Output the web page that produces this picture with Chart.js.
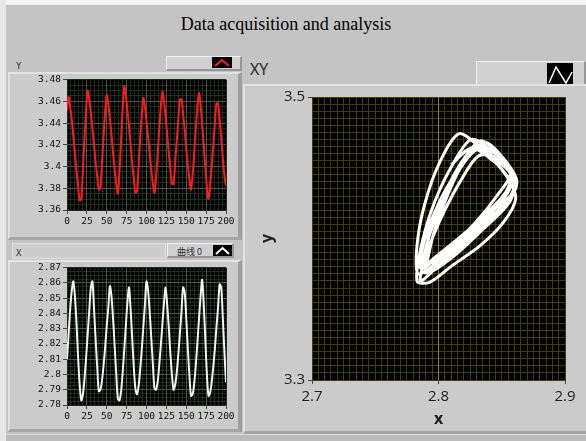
<!DOCTYPE html>
<html>
<head>
<meta charset="utf-8">
<script src="https://cdn.jsdelivr.net/npm/chart.js@4.4.0/dist/chart.umd.min.js"></script>
<style>
  html, body { margin: 0; padding: 0; }
  body { width: 586px; height: 441px; background: #c4c4c4; position: relative; overflow: hidden; }
  div, canvas, svg { position: absolute; }
  #title { left: 0; top: 14px; width: 572px; text-align: center; font: 18px "Liberation Serif", serif; color: #000; }
  .panel { background: #cbcbcb; box-sizing: border-box; border-top: 2px solid #e2e2e2; border-left: 2px solid #e2e2e2; border-right: 4px solid #9e9e9e; border-bottom: 3px solid #a6a6a6; }
  .hdr { background: #d0d0d0; box-sizing: border-box; border-top: 1px solid #f0f0f0; border-left: 1px solid #f0f0f0; border-right: 2px solid #979797; border-bottom: 2px solid #979797; }
  .icon { background: #000; }
  .lbl { font: 9px "DejaVu Sans Mono", monospace; color: #333; }
</style>
</head>
<body>
<div style="left:0;top:0;width:586px;height:5px;background:#f2f2f2"></div>
<div style="left:0;top:0;width:6px;height:441px;background:#e6e6e6"></div>
<div style="left:6px;top:434px;width:580px;height:7px;background:#bcbcbc;border-top:1px solid #dcdcdc"></div>
<div id="title">Data acquisition and analysis</div>

<!-- Y strip chart frame -->
<div class="lbl" style="left:16px;top:61px">Y</div>
<div class="hdr" style="left:166px;top:56px;width:76px;height:15px"></div>
<svg class="icon" style="left:212px;top:57px" width="20" height="11"><polyline points="3,9 10,3 17,9" fill="none" stroke="#ff2020" stroke-width="2"/></svg>
<div class="panel" style="left:8px;top:72px;width:234px;height:168px"></div>

<!-- X strip chart frame -->
<div style="left:12px;top:243px;width:152px;height:14px;background:#cdcdcd;border:1px solid #e0e0e0"></div>
<div class="lbl" style="left:16px;top:248px">X</div>
<div class="hdr" style="left:167px;top:243px;width:67px;height:15px"></div>
<div style="left:177px;top:245px;font:9px 'Noto Sans CJK SC', sans-serif;color:#333">曲线 0</div>
<svg class="icon" style="left:213px;top:245px" width="19" height="11"><polyline points="3,9 9.5,3 16,9" fill="none" stroke="#ffffff" stroke-width="2"/></svg>
<div class="panel" style="left:8px;top:260px;width:234px;height:172px"></div>

<!-- XY graph frame -->
<div style="left:250px;top:58px;font:16px 'Open Sans', sans-serif;color:#222">XY</div>
<div class="hdr" style="left:476px;top:61px;width:110px;height:27px"></div>
<svg class="icon" style="left:547px;top:63px" width="26" height="23"><polyline points="2,20 9,4 19,20 25,9" fill="none" stroke="#ffffff" stroke-width="1.5"/></svg>
<div class="panel" style="left:243px;top:84px;width:343px;height:350px;border-right:none"></div>

<canvas id="chartY" style="left:10px;top:72px" width="232" height="166"></canvas>
<canvas id="chartX" style="left:10px;top:260px" width="232" height="170"></canvas>
<canvas id="chartXY" style="left:244px;top:85px" width="342" height="350"></canvas>

<script>
// sample index 0..200 (every second sample)
var sampleIndex = Array.from({length: 101}, function (_, i) { return i * 2; });

var yValues = [
  3.452, 3.464, 3.455, 3.443, 3.428, 3.411, 3.395, 3.381, 3.369, 3.370,
  3.397, 3.426, 3.452, 3.470, 3.462, 3.450, 3.435, 3.420, 3.404, 3.391,
  3.379, 3.380, 3.403, 3.428, 3.451, 3.466, 3.457, 3.444, 3.429, 3.412,
  3.397, 3.384, 3.375, 3.395, 3.424, 3.454, 3.474, 3.465, 3.452, 3.437,
  3.420, 3.403, 3.389, 3.376, 3.377, 3.400, 3.425, 3.448, 3.463, 3.455,
  3.442, 3.427, 3.412, 3.397, 3.384, 3.376, 3.390, 3.411, 3.434, 3.455,
  3.469, 3.460, 3.446, 3.430, 3.413, 3.397, 3.384, 3.384, 3.403, 3.423,
  3.443, 3.462, 3.462, 3.449, 3.434, 3.417, 3.401, 3.388, 3.379, 3.392,
  3.412, 3.435, 3.455, 3.468, 3.457, 3.439, 3.419, 3.399, 3.381, 3.370,
  3.382, 3.400, 3.420, 3.440, 3.458, 3.458, 3.443, 3.427, 3.408, 3.392,
  3.382
];

var xValues = [
  2.810, 2.826, 2.843, 2.855, 2.861, 2.851, 2.833, 2.811, 2.793, 2.783,
  2.787, 2.797, 2.811, 2.826, 2.842, 2.857, 2.861, 2.843, 2.823, 2.805,
  2.789, 2.790, 2.796, 2.806, 2.818, 2.832, 2.844, 2.858, 2.851, 2.836,
  2.818, 2.800, 2.784, 2.783, 2.789, 2.801, 2.816, 2.832, 2.847, 2.857,
  2.843, 2.824, 2.805, 2.791, 2.787, 2.792, 2.803, 2.816, 2.831, 2.846,
  2.861, 2.855, 2.841, 2.824, 2.807, 2.791, 2.790, 2.795, 2.806, 2.819,
  2.833, 2.847, 2.857, 2.846, 2.831, 2.814, 2.800, 2.790, 2.793, 2.801,
  2.813, 2.827, 2.841, 2.857, 2.854, 2.837, 2.817, 2.799, 2.786, 2.787,
  2.794, 2.806, 2.821, 2.836, 2.851, 2.862, 2.846, 2.823, 2.800, 2.786,
  2.788, 2.795, 2.805, 2.817, 2.831, 2.844, 2.859, 2.857, 2.837, 2.815,
  2.795
];

var yRange = [3.36, 3.48, 0.02];
var xRange = [2.78, 2.87, 0.01];
var sampleRange = [0, 200, 25];
var xyXRange = [2.7, 2.9, 0.1];
var xyYRange = [3.3, 3.5, 0.1];

var plotBackground = {
  id: 'plotBackground',
  beforeDraw: function (chart) {
    var a = chart.chartArea, ctx = chart.ctx;
    ctx.save();
    ctx.fillStyle = '#000';
    ctx.fillRect(a.left, a.top, a.right - a.left, a.bottom - a.top);
    ctx.restore();
  }
};

function fmt(v) { return String(Number(v.toFixed(4))); }

function hideEdges(color) {
  return function (c) {
    var n = c.scale.ticks.length;
    return (c.index === 0 || c.index === n - 1) ? 'rgba(0,0,0,0)' : color;
  };
}

// major axis with labels
function majorAxis(pos, min, max, step, size, font, gridColor, pad) {
  return {
    type: 'linear', position: pos, min: min, max: max,
    afterFit: function (s) { if (pos === 'left') s.width = size; else s.height = size; },
    border: { display: false },
    grid: { color: hideEdges(gridColor), tickColor: '#444', tickLength: 4, lineWidth: 1 },
    ticks: { stepSize: step, maxTicksLimit: Math.round((max - min) / step) + 1, color: '#111',
             font: font, padding: pad, maxRotation: 0, autoSkip: false, callback: fmt }
  };
}

// minor grid only
function minorAxis(pos, min, max, step, color) {
  return {
    type: 'linear', position: pos, min: min, max: max, z: -1,
    afterFit: function (s) { if (pos === 'left') s.width = 0; else s.height = 0; },
    border: { display: false },
    grid: { color: color, drawTicks: false, lineWidth: 1 },
    ticks: { display: false, stepSize: step, maxTicksLimit: Math.round((max - min) / step) + 1 }
  };
}

var smallFont = { family: 'DejaVu Sans Mono', size: 9.5 };

function stripChart(id, values, color, range, minorStep, padTop, xHeight) {
  return new Chart(document.getElementById(id), {
    type: 'line',
    data: {
      datasets: [{
        data: sampleIndex.map(function (t, i) { return { x: t, y: values[i] }; }),
        borderColor: color, borderWidth: 2, pointRadius: 0, tension: 0.3
      }]
    },
    options: {
      animation: false, responsive: false,
      layout: { padding: { top: padTop, right: 16, left: 0, bottom: 0 } },
      plugins: { legend: { display: false }, tooltip: { enabled: false } },
      scales: {
        xMinor: minorAxis('bottom', sampleRange[0], sampleRange[1], 5, '#1c2c1e'),
        yMinor: minorAxis('left', range[0], range[1], minorStep, '#1c2c1e'),
        x: majorAxis('bottom', sampleRange[0], sampleRange[1], sampleRange[2], xHeight, smallFont, '#475847', 2),
        y: majorAxis('left', range[0], range[1], range[2], 57, smallFont, '#475847', 2)
      }
    },
    plugins: [plotBackground]
  });
}

stripChart('chartY', yValues, '#ff1a1a', yRange, 0.005, 5, 28);
stripChart('chartX', xValues, '#f4f4f4', xRange, 0.0025, 7, 25);

var xyFont = { family: 'Open Sans', size: 15 };
var xyX = majorAxis('bottom', xyXRange[0], xyXRange[1], xyXRange[2], 53, xyFont, '#8c8800', 4);
xyX.title = { display: true, text: 'x', color: '#222', font: { family: 'Open Sans', size: 16, weight: 'bold' } };
var xyY = majorAxis('left', xyYRange[0], xyYRange[1], xyYRange[2], 58, xyFont, '#8c8800', 3);
xyY.title = { display: true, text: 'y', color: '#222', font: { family: 'Open Sans', size: 16, weight: 'bold' } };
xyX.ticks.color = '#222';
xyY.ticks.color = '#222';

new Chart(document.getElementById('chartXY'), {
  type: 'scatter',
  data: {
    datasets: [{
      data: xValues.map(function (v, i) { return { x: v, y: yValues[i] }; }),
      showLine: true, borderColor: '#ffffff', borderWidth: 3, pointRadius: 0, tension: 0.3
    }]
  },
  options: {
    animation: false, responsive: false,
    layout: { padding: { top: 8, right: 21, left: 10, bottom: 2 } },
    plugins: { legend: { display: false }, tooltip: { enabled: false } },
    scales: {
      xMinor: minorAxis('bottom', xyXRange[0], xyXRange[1], 0.005, '#423f00'),
      yMinor: minorAxis('left', xyYRange[0], xyYRange[1], 0.005, '#423f00'),
      x: xyX,
      y: xyY
    }
  },
  plugins: [plotBackground]
});
</script>
</body>
</html>
